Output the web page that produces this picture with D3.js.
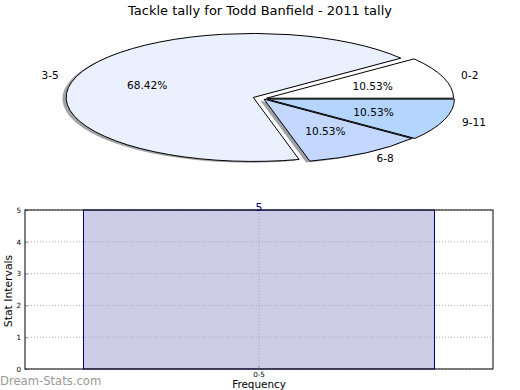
<!DOCTYPE html>
<html><head><meta charset="utf-8">
<script src="https://cdn.jsdelivr.net/npm/d3@7"></script>
<style>body{margin:0;background:#fff;} svg{display:block;font-family:"DejaVu Sans",sans-serif;}</style>
</head><body><svg id="c" width="520" height="390"></svg>
<script>
// ---- data ----
const pieTitle = "Tackle tally for Todd Banfield - 2011 tally";
const pieLabels = ["0-2", "3-5", "6-8", "9-11"];
const pieValues = [2, 13, 2, 2];
const pieColors = ["#ffffff", "#eaf0fe", "#c4d8fe", "#b4d5fe"];
const pieExplode = [0.02, 0.055, 0.01, 0.025];

const barCategories = ["0-5"];
const barValues = [5];
const yTicks = [0, 1, 2, 3, 4, 5];
const xLabel = "Frequency";
const yLabel = "Stat Intervals";
const watermark = "Dream-Stats.com";

// ---- pie ----
const svg = d3.select("#c");
const cx = 263, cy = 98.6, rx = 187, ry = 64;
const total = d3.sum(pieValues);
const pie = d3.pie().sort(null).startAngle(Math.PI / 2).endAngle(Math.PI / 2 - 2 * Math.PI);
const arcs = pie(pieValues);
const arc = d3.arc().innerRadius(0).outerRadius(1);
const gPie = svg.append("g").attr("transform", `translate(${cx},${cy})`);
const dirOf = d => { const a = (d.startAngle + d.endAngle) / 2; return [Math.sin(a), -Math.cos(a)]; };

// shadows first (beneath all wedges)
arcs.forEach((d, i) => {
  const [ux, uy] = dirOf(d), e = pieExplode[i];
  const c = d3.rgb(pieColors[i]);
  gPie.append("path")
    .attr("d", arc(d))
    .attr("transform", `translate(${ux * rx * e - 0.02 * rx},${uy * ry * e + 0.02 * ry}) scale(${rx},${ry})`)
    .attr("fill", d3.rgb(c.r * 0.3, c.g * 0.3, c.b * 0.3).toString())
    .attr("fill-opacity", 0.5)
    .attr("stroke", "none");
});
arcs.forEach((d, i) => {
  const [ux, uy] = dirOf(d), e = pieExplode[i];
  gPie.append("path")
    .attr("d", arc(d))
    .attr("transform", `translate(${ux * rx * e},${uy * ry * e}) scale(${rx},${ry})`)
    .attr("fill", pieColors[i])
    .attr("stroke", "#000")
    .attr("stroke-width", 1)
    .attr("stroke-linejoin", "miter")
    .attr("stroke-miterlimit", 10)
    .attr("vector-effect", "non-scaling-stroke");
});
arcs.forEach((d, i) => {
  const [ux, uy] = dirOf(d), e = pieExplode[i];
  const k = 1.1 + e, kp = 0.6 + e;
  gPie.append("text")
    .attr("x", ux * rx * k).attr("y", uy * ry * k)
    .attr("text-anchor", ux > 0.001 ? "start" : (ux < -0.001 ? "end" : "middle"))
    .attr("dominant-baseline", "central")
    .attr("font-size", 10.6).text(pieLabels[i]);
  gPie.append("text")
    .attr("x", ux * rx * kp).attr("y", uy * ry * kp)
    .attr("text-anchor", "middle")
    .attr("dominant-baseline", "central")
    .attr("font-size", 10.6).text((pieValues[i] / total * 100).toFixed(2) + "%");
});
svg.append("text").attr("x", 260).attr("y", 10).attr("text-anchor", "middle")
  .attr("dominant-baseline", "central").attr("font-size", 13).text(pieTitle);

// ---- bar chart ----
const m = { l: 25, r: 493, t: 210, b: 369 };
const x = d3.scaleBand().domain(barCategories).range([m.l, m.r]).paddingInner(0.25).paddingOuter(0.125);
const y = d3.scaleLinear().domain([0, 5]).range([m.b, m.t]);

svg.selectAll("rect.bar").data(barValues).join("rect").attr("class", "bar")
  .attr("x", (d, i) => x(barCategories[i])).attr("width", x.bandwidth())
  .attr("y", d => y(d)).attr("height", d => y(0) - y(d))
  .attr("fill", "#000080").attr("fill-opacity", 0.2)
  .attr("stroke", "#000080").attr("stroke-width", 1);

// grid
const grid = svg.append("g").attr("stroke", "#aaaaaa").attr("stroke-dasharray", "1,2").attr("stroke-width", 1);
yTicks.forEach(t => grid.append("line").attr("x1", m.l).attr("x2", m.r).attr("y1", y(t)).attr("y2", y(t)));
barCategories.forEach(c => {
  const xc = x(c) + x.bandwidth() / 2;
  grid.append("line").attr("x1", xc).attr("x2", xc).attr("y1", m.t).attr("y2", m.b);
});

const ya = svg.append("g").attr("transform", `translate(${m.l},0)`)
  .call(d3.axisLeft(y).tickValues(yTicks).tickFormat(d3.format("d")).tickSizeInner(-3).tickSizeOuter(0).tickPadding(4));
ya.select(".domain").remove();
ya.selectAll("line").attr("stroke", "#999");
ya.selectAll("text").attr("font-size", 7.2).attr("font-family", "DejaVu Sans");

const xa = svg.append("g").attr("transform", `translate(0,${m.b})`)
  .call(d3.axisBottom(x).tickSizeInner(-3).tickSizeOuter(0).tickPadding(2.5));
xa.select(".domain").remove();
xa.selectAll("line").attr("stroke", "#999");
xa.selectAll("text").attr("font-size", 7.2).attr("font-family", "DejaVu Sans");

svg.append("rect").attr("x", m.l).attr("y", m.t).attr("width", m.r - m.l).attr("height", m.b - m.t)
  .attr("fill", "none").attr("stroke", "#000").attr("stroke-width", 1);

svg.selectAll("text.val").data(barValues).join("text").attr("class", "val")
  .attr("x", (d, i) => x(barCategories[i]) + x.bandwidth() / 2).attr("y", d => y(d) + 0.5)
  .attr("text-anchor", "middle").attr("fill", "#000080").attr("font-size", 10.8).text(d => d);

svg.append("text").attr("transform", `translate(8.7,${(m.t + m.b) / 2 + 1.5}) rotate(-90)`)
  .attr("text-anchor", "middle").attr("dominant-baseline", "central").attr("font-size", 10.8).text(yLabel);
svg.append("text").attr("x", (m.l + m.r) / 2).attr("y", 388.3).attr("text-anchor", "middle")
  .attr("font-size", 10.4).text(xLabel);
svg.append("text").attr("x", 0).attr("y", 384.5).attr("fill", "#999").attr("font-size", 11.6).text(watermark);
</script></body></html>
